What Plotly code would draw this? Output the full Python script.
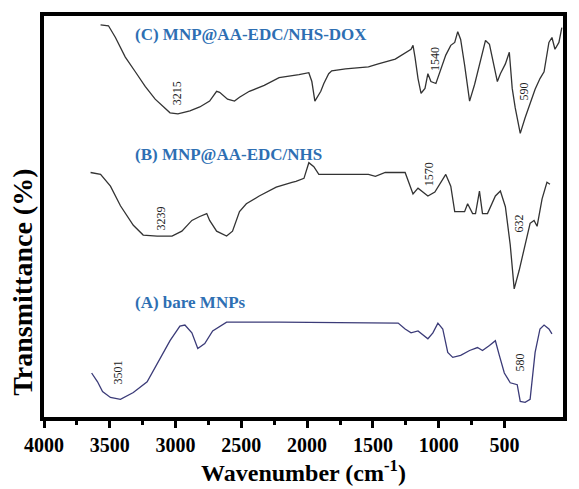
import plotly.graph_objects as go

# Curve C: MNP@AA-EDC/NHS-DOX (wavenumber, offset transmittance)
c_wn = [3570, 3510, 3457, 3382, 3306, 3231, 3155, 3080, 3042, 2982, 2891, 2816, 2741, 2688, 2665,
        2605, 2552, 2514, 2439, 2326, 2213, 2062, 1987, 1964, 1941, 1896, 1873, 1836, 1813, 1708,
        1534, 1459, 1330, 1210, 1195, 1180, 1157, 1134, 1104, 1082, 1059, 1021, 984, 946, 908,
        878, 855, 833, 803, 765, 727, 682, 644, 614, 591, 554, 531, 493, 463, 441, 418, 380,
        343, 305, 267, 230, 199, 162, 139, 116, 86, 64]
c_t = [401, 400, 388, 368, 353, 338, 325, 315, 311, 310, 313, 317, 323, 333, 332,
       325, 323, 327, 333, 339, 347, 350, 352, 343, 323, 333, 341, 351, 354, 356,
       358, 361, 366, 376, 380, 368, 346, 331, 336, 351, 343, 341, 356, 370, 380,
       383, 394, 386, 360, 323, 340, 366, 385, 381, 366, 343, 351, 361, 373, 336, 316, 290,
       306, 320, 335, 346, 353, 383, 388, 376, 383, 398]

# Curve B: MNP@AA-EDC/NHS
b_wn = [3646, 3570, 3495, 3419, 3321, 3246, 3140, 3027, 2952, 2876, 2816, 2763, 2741, 2688, 2612,
        2567, 2514, 2462, 2364, 2235, 2115, 2085, 2024, 1987, 1949, 1911, 1708, 1534, 1481, 1406,
        1255, 1217, 1195, 1157, 1082, 1029, 984, 946, 908, 878, 803, 780, 742, 720, 690, 667,
        629, 569, 531, 493, 456, 426, 388, 350, 305, 275, 252, 214, 177, 154]
b_t = [250, 248, 236, 216, 196, 186, 185, 185, 190, 201, 205, 208, 201, 190, 185,
       190, 210, 218, 226, 235, 240, 241, 244, 260, 256, 248, 248, 248, 246, 250,
       250, 236, 228, 234, 226, 230, 240, 248, 236, 210, 210, 218, 208, 208, 231, 208,
       208, 226, 231, 215, 176, 131, 150, 173, 198, 201, 195, 223, 240, 238]

# Curve A: bare MNPs
a_wn = [3638, 3593, 3555, 3495, 3419, 3321, 3216, 3118, 3042, 2967, 2929, 2876, 2831, 2778, 2718,
        2612, 2213, 1308, 1255, 1210, 1157, 1082, 1044, 1006, 969, 931, 893, 833, 765, 705, 667,
        614, 569, 539, 501, 456, 403, 380, 343, 305, 290, 267, 230, 199, 162, 139]
a_t = [45, 36, 26, 20, 18, 25, 36, 60, 78, 93, 94, 86, 70, 75, 88,
       97, 97, 96, 90, 86, 88, 80, 86, 96, 90, 66, 61, 63, 68, 71, 68,
       73, 78, 63, 45, 35, 33, 16, 15, 18, 36, 66, 90, 94, 90, 85]

series_names = ["(C) MNP@AA-EDC/NHS-DOX", "(B) MNP@AA-EDC/NHS", "(A) bare MNPs"]
series_label_pos = [(3321, 391), (3321, 268), (3321, 117)]

peak_labels = ["3215", "1540", "590", "3239", "1570", "632", "3501", "580"]
peak_pos = [(2990, 331), (1029, 366), (350, 333), (3110, 203), (1067, 248), (388, 198),
            (3434, 46), (380, 56)]

fig = go.Figure()
fig.add_trace(go.Scatter(x=c_wn, y=c_t, mode="lines", line=dict(color="#333333", width=1.3),
                         showlegend=False))
fig.add_trace(go.Scatter(x=b_wn, y=b_t, mode="lines", line=dict(color="#333333", width=1.3),
                         showlegend=False))
fig.add_trace(go.Scatter(x=a_wn, y=a_t, mode="lines", line=dict(color="#3b3b78", width=1.3),
                         showlegend=False))

for name, (x, y) in zip(series_names, series_label_pos):
    fig.add_annotation(x=x, y=y, text="<b>" + name + "</b>", showarrow=False, xanchor="left",
                       yanchor="middle",
                       font=dict(family="Liberation Serif", size=17, color="#2e6fb3"))

for lab, (x, y) in zip(peak_labels, peak_pos):
    fig.add_annotation(x=x, y=y, text=lab, showarrow=False, textangle=-90,
                       font=dict(family="Liberation Serif", size=12, color="#222222"))

# y-axis title (placed as in the reference, lower than the plot centre)
fig.add_annotation(xref="paper", yref="paper", x=-0.042, y=0.335, text="<b>Transmittance (%)</b>",
                   showarrow=False, textangle=-90, xanchor="center", yanchor="middle",
                   font=dict(family="Liberation Serif", size=28, color="black"))

fig.update_layout(
    width=579, height=489,
    margin=dict(l=44, r=12, t=13, b=66),
    plot_bgcolor="white", paper_bgcolor="white",
    font=dict(family="Liberation Serif", color="black"),
)
fig.update_xaxes(
    range=[4000, 55], tickmode="array", tickvals=[4000, 3500, 3000, 2500, 2000, 1500, 1000, 500],
    ticks="outside", ticklen=7, tickwidth=3, tickcolor="black",
    minor=dict(tickmode="array", tickvals=[3750, 3250, 2750, 2250, 1750, 1250, 750],
               ticks="outside", ticklen=4, tickwidth=3, tickcolor="black"),
    showline=True, linewidth=3.5, linecolor="black", mirror=True, showgrid=False, zeroline=False,
    tickfont=dict(family="Liberation Serif", size=20, color="black", weight="bold"),
    title=dict(text="<b>Wavenumber (cm<sup>-1</sup>)</b>", standoff=4,
               font=dict(family="Liberation Serif", size=24, color="black")),
)
fig.update_yaxes(
    range=[0, 410], showticklabels=False, ticks="", showgrid=False, zeroline=False,
    showline=True, linewidth=3.5, linecolor="black", mirror=True,
)
fig.write_html("out.html")
